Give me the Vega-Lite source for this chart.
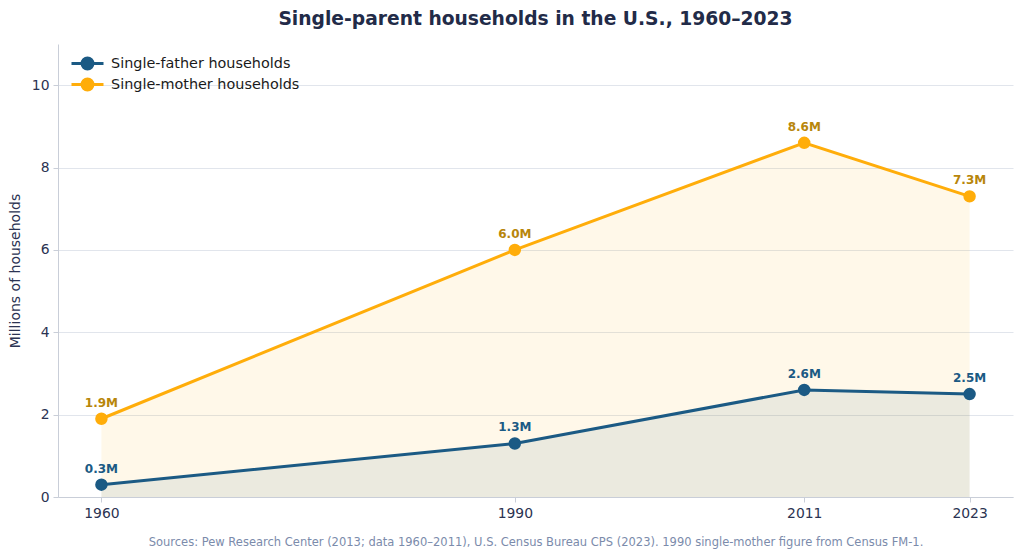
{
  "$schema": "https://vega.github.io/schema/vega-lite/v6.json",
  "width": 955,
  "height": 453,
  "autosize": {"type": "none"},
  "padding": {"left": 58, "top": 44, "right": 11, "bottom": 63},
  "title": {
    "text": "Single-parent households in the U.S., 1960–2023",
    "anchor": "middle",
    "fontSize": 18.7,
    "fontWeight": "bold",
    "color": "#222b48",
    "font": "DejaVu Sans",
    "offset": 15
  },
  "config": {
    "font": "DejaVu Sans",
    "view": {"stroke": null},
    "axis": {
      "domainColor": "#c9ced8",
      "tickColor": "#c9ced8",
      "tickSize": 5,
      "labelColor": "#2b3352",
      "labelFontSize": 13.9,
      "labelPadding": 4,
      "titleFontWeight": "normal"
    },
    "legend": {
      "orient": "none",
      "legendX": 12,
      "legendY": 10,
      "padding": 0,
      "labelFontSize": 14.4,
      "labelColor": "#1a1a1a",
      "labelOffset": 22,
      "labelLimit": 400,
      "rowPadding": -2,
      "symbolType": "M-1,0H3M1.68,0A0.68,0.68,0,1,1,0.32,0A0.68,0.68,0,1,1,1.68,0Z",
      "symbolSize": 256,
      "symbolStrokeWidth": 3,
      "symbolOpacity": 1
    }
  },
  "data": {
    "values": [
      {"year": 1960, "series": "Single-father households", "value": 0.3, "label": "0.3M"},
      {"year": 1990, "series": "Single-father households", "value": 1.3, "label": "1.3M"},
      {"year": 2011, "series": "Single-father households", "value": 2.6, "label": "2.6M"},
      {"year": 2023, "series": "Single-father households", "value": 2.5, "label": "2.5M"},
      {"year": 1960, "series": "Single-mother households", "value": 1.9, "label": "1.9M"},
      {"year": 1990, "series": "Single-mother households", "value": 6.0, "label": "6.0M"},
      {"year": 2011, "series": "Single-mother households", "value": 8.6, "label": "8.6M"},
      {"year": 2023, "series": "Single-mother households", "value": 7.3, "label": "7.3M"}
    ]
  },
  "encoding": {
    "x": {
      "field": "year",
      "type": "quantitative",
      "scale": {"domain": [1956.85, 2026.15], "nice": false, "zero": false},
      "axis": {
        "values": [1960, 1990, 2011, 2023],
        "format": "d",
        "grid": false,
        "title": "Sources: Pew Research Center (2013; data 1960–2011), U.S. Census Bureau CPS (2023). 1990 single-mother figure from Census FM-1.",
        "titleColor": "#7b8bab",
        "titleFontSize": 11.5,
        "titlePadding": 17
      }
    },
    "y": {
      "field": "value",
      "type": "quantitative",
      "stack": null,
      "scale": {"domain": [0, 11], "nice": false},
      "axis": {
        "title": "Millions of households",
        "values": [0, 2, 4, 6, 8, 10],
        "grid": true,
        "gridColor": "#e1e5ec",
        "titleColor": "#2b3352",
        "titleFontSize": 14,
        "titlePadding": 9
      }
    }
  },
  "layer": [
    {
      "mark": {"type": "area", "opacity": 0.09},
      "encoding": {
        "fill": {
          "field": "series",
          "type": "nominal",
          "title": null,
          "scale": {"domain": ["Single-father households", "Single-mother households"], "range": ["#1b5a84", "#ffad0a"]}
        }
      }
    },
    {
      "mark": {"type": "line", "strokeWidth": 3},
      "encoding": {
        "stroke": {
          "field": "series",
          "type": "nominal",
          "title": null,
          "scale": {"domain": ["Single-father households", "Single-mother households"], "range": ["#1b5a84", "#ffad0a"]}
        }
      }
    },
    {
      "mark": {"type": "point", "filled": true, "size": 110, "opacity": 1},
      "encoding": {
        "fill": {"field": "series", "type": "nominal", "title": null},
        "stroke": {"field": "series", "type": "nominal", "title": null}
      }
    },
    {
      "transform": [{"filter": "datum.series === 'Single-father households'"}],
      "mark": {"type": "text", "fontWeight": "bold", "fontSize": 12, "dy": -16, "color": "#1b5a84"},
      "encoding": {"text": {"field": "label"}}
    },
    {
      "transform": [{"filter": "datum.series === 'Single-mother households'"}],
      "mark": {"type": "text", "fontWeight": "bold", "fontSize": 12, "dy": -16, "color": "#b8860b"},
      "encoding": {"text": {"field": "label"}}
    }
  ]
}
